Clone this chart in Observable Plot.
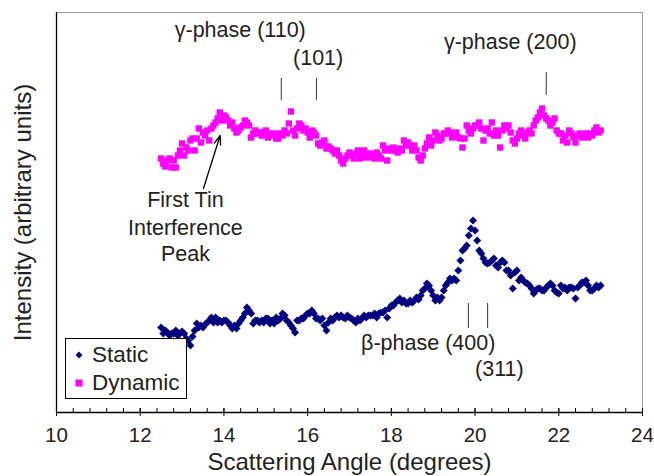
<!DOCTYPE html>
<html>
<head>
<meta charset="utf-8">
<script src="https://cdn.jsdelivr.net/npm/d3@7"></script>
<script src="https://cdn.jsdelivr.net/npm/@observablehq/plot@0.6"></script>
<style>
  html, body { margin: 0; padding: 0; background: #fff; }
  #wrap { position: relative; width: 654px; height: 476px; font-family: "Liberation Sans", Arial, sans-serif; }
  #legend { position: absolute; left: 65px; top: 338px; width: 122px; height: 61px; border: 1px solid #000; background: #fff; box-sizing: border-box; }
  .item { position: absolute; left: 0; height: 28px; display: flex; align-items: center; font-size: 22.5px; color: #222; }
  .item svg { margin-left: 8px; margin-right: 8px; }
</style>
</head>
<body>
<div id="wrap"></div>
<script>
// Scattering angle grid (degrees): 12.50 .. 23.00, step 0.05
const startAngle = 12.5, stepAngle = 0.05, nPoints = 211;
const angles = d3.range(nPoints).map(i => +(startAngle + i * stepAngle).toFixed(2));

// Intensities (arbitrary units)
const staticIntensity = [
  85,79,82,80,77,79,
  79,82,77,79,81,
  79,74,72,67,76,
  82,89,85,87,85,
  88,90,92,95,90,
  95,90,92,90,92,
  92,90,87,84,87,
  84,89,92,95,99,
  105,102,99,89,92,
  92,90,92,90,94,
  94,89,92,89,95,
  92,94,99,97,92,
  90,87,84,80,92,
  92,94,94,97,99,
  99,102,99,94,94,
  92,94,87,82,90,
  94,92,95,97,95,
  97,95,94,97,95,
  94,92,90,94,92,
  94,97,95,97,97,
  97,99,95,99,100,
  100,102,95,104,107,
  107,110,112,114,110,
  112,109,109,112,110,
  112,115,113,117,122,
  124,129,127,122,117,
  112,115,112,115,122,
  127,130,134,132,134,
  132,142,152,162,164,
  167,177,184,192,182,
  172,162,159,154,150,
  149,150,152,154,147,
  145,150,152,150,142,
  142,137,124,140,142,
  132,135,132,130,129,
  127,124,119,122,124,
  124,122,122,125,127,
  129,127,122,120,119,
  127,124,125,122,125,
  125,124,114,125,127,
  130,130,132,127,122,
  122,124,127,125,127
];
const dynamicIntensity = [
  254,249,246,252,254,245,
  252,245,257,262,269,
  257,265,262,272,274,
  262,274,284,270,280,
  277,282,272,284,287,
  290,294,300,292,297,
  295,292,287,290,284,
  280,282,285,287,292,
  290,287,275,279,282,
  279,280,277,280,282,
  275,279,277,279,274,
  274,279,277,282,279,
  289,301,282,277,284,
  289,287,282,284,280,
  275,282,280,277,269,
  267,270,272,264,266,
  264,262,259,262,257,
  252,249,254,257,260,
  257,254,259,262,254,
  259,262,255,257,259,
  255,254,260,257,254,
  267,262,252,264,262,
  265,262,260,264,262,
  272,267,270,267,262,
  267,262,255,252,257,
  264,269,275,267,272,
  280,277,272,274,279,
  279,282,280,275,277,
  280,275,274,265,274,
  287,282,279,284,287,
  287,290,284,272,282,
  284,279,290,277,282,
  277,265,282,287,284,
  287,280,272,269,274,
  279,282,277,274,280,
  282,279,287,292,295,
  300,304,297,294,292,
  287,290,294,282,279,
  279,272,277,270,282,
  279,275,270,277,279,
  275,277,279,275,279,
  277,282,285,280,282
];

const seriesNames = ["Static", "Dynamic"];
const seriesColors = ["#000080", "#FF00FF"];
const seriesSymbols = ["diamond2", "square"];

const xTicks = [10, 12, 14, 16, 18, 20, 22, 24];
const xMinorTicks = d3.range(0, 36).map(i => +(10 + i * 0.4).toFixed(1));

// Annotations (data coordinates)
const labelTexts = ["γ-phase (110)", "(101)", "γ-phase (200)", "First Tin", "Interference", "Peak", "β-phase (400)", "(311)"];
const labelX =     [14.39, 16.25, 20.84, 13.08, 13.08, 13.08, 18.88, 20.58];
const labelY =     [382, 354, 370, 212, 184, 158, 69, 43];
const peakMarkX =  [15.37, 16.21, 21.70, 19.84, 20.30];
const peakMarkY1 = [312, 312, 317, 84, 84];
const peakMarkY2 = [334, 334, 340, 109, 109];
const arrowFrom = [13.51, 224];
const arrowTo = [13.91, 277];

const staticData = angles.map((a, i) => ({angle: a, intensity: staticIntensity[i]}));
const dynamicData = angles.map((a, i) => ({angle: a, intensity: dynamicIntensity[i]}));
const labels = labelTexts.map((t, i) => ({t, x: labelX[i], y: labelY[i]}));
const marks = peakMarkX.map((x, i) => ({x, y1: peakMarkY1[i], y2: peakMarkY2[i]}));

const textColor = "#222";

const chart = Plot.plot({
  width: 654,
  height: 476,
  marginLeft: 56,
  marginRight: 12,
  marginTop: 12,
  marginBottom: 64,
  style: {fontFamily: "'Liberation Sans', Arial, sans-serif", fontSize: "20px", color: textColor, background: "#fff"},
  x: {domain: [10, 24]},
  y: {domain: [0, 400], axis: null},
  marks: [
    Plot.ruleY([400], {stroke: "#999", strokeWidth: 1}),
    Plot.ruleX([24], {stroke: "#999", strokeWidth: 1}),
    Plot.ruleX([10], {stroke: "#000", strokeWidth: 1.3}),
    Plot.ruleY([0], {stroke: "#000", strokeWidth: 1.3}),
    Plot.axisX(xMinorTicks, {tickSize: -4, tickFormat: () => "", stroke: "#000"}),
    Plot.axisX(xTicks, {tickSize: -4, tickFormat: () => "", stroke: "#000"}),
    Plot.axisX(xTicks, {tickSize: 4, tickPadding: 11, tickFormat: d => String(d), stroke: "#000", fill: textColor, fontSize: 20.5, label: null}),
    Plot.text(["Scattering Angle (degrees)"], {frameAnchor: "bottom", lineAnchor: "middle", dy: 50, fontSize: 24, fill: textColor}),
    Plot.text(["Intensity (arbitrary units)"], {frameAnchor: "left", textAnchor: "middle", dx: -33, rotate: -90, fontSize: 24, fill: textColor}),
    Plot.dot(dynamicData, {x: "angle", y: "intensity", symbol: seriesSymbols[1], fill: seriesColors[1], r: 3.6, stroke: "none"}),
    Plot.dot(staticData, {x: "angle", y: "intensity", symbol: seriesSymbols[0], fill: seriesColors[0], r: 3.6, stroke: "none"}),
    Plot.ruleX(marks, {x: "x", y1: "y1", y2: "y2", stroke: "#333", strokeWidth: 1}),
    Plot.text(labels, {x: "x", y: "y", text: "t", fontSize: 21.5, fill: textColor}),
    Plot.arrow([0], {x1: () => arrowFrom[0], y1: () => arrowFrom[1], x2: () => arrowTo[0], y2: () => arrowTo[1], stroke: "#000", strokeWidth: 1.3, headLength: 11, headAngle: 40, bend: 0})
  ]
});

const wrap = document.getElementById("wrap");
wrap.appendChild(chart);

// Legend
const legend = document.createElement("div");
legend.id = "legend";
seriesNames.forEach((name, i) => {
  const item = document.createElement("div");
  item.className = "item";
  item.style.top = (i === 0 ? 2 : 30) + "px";
  const sym = i === 0
    ? `<svg width="10" height="10"><path d="M5,1.5L8.5,5L5,8.5L1.5,5Z" fill="${seriesColors[i]}"/></svg>`
    : `<svg width="10" height="10"><rect x="1.5" y="1.5" width="7" height="7" fill="${seriesColors[i]}"/></svg>`;
  item.innerHTML = sym + `<span>${name}</span>`;
  legend.appendChild(item);
});
wrap.appendChild(legend);
</script>
</body>
</html>
